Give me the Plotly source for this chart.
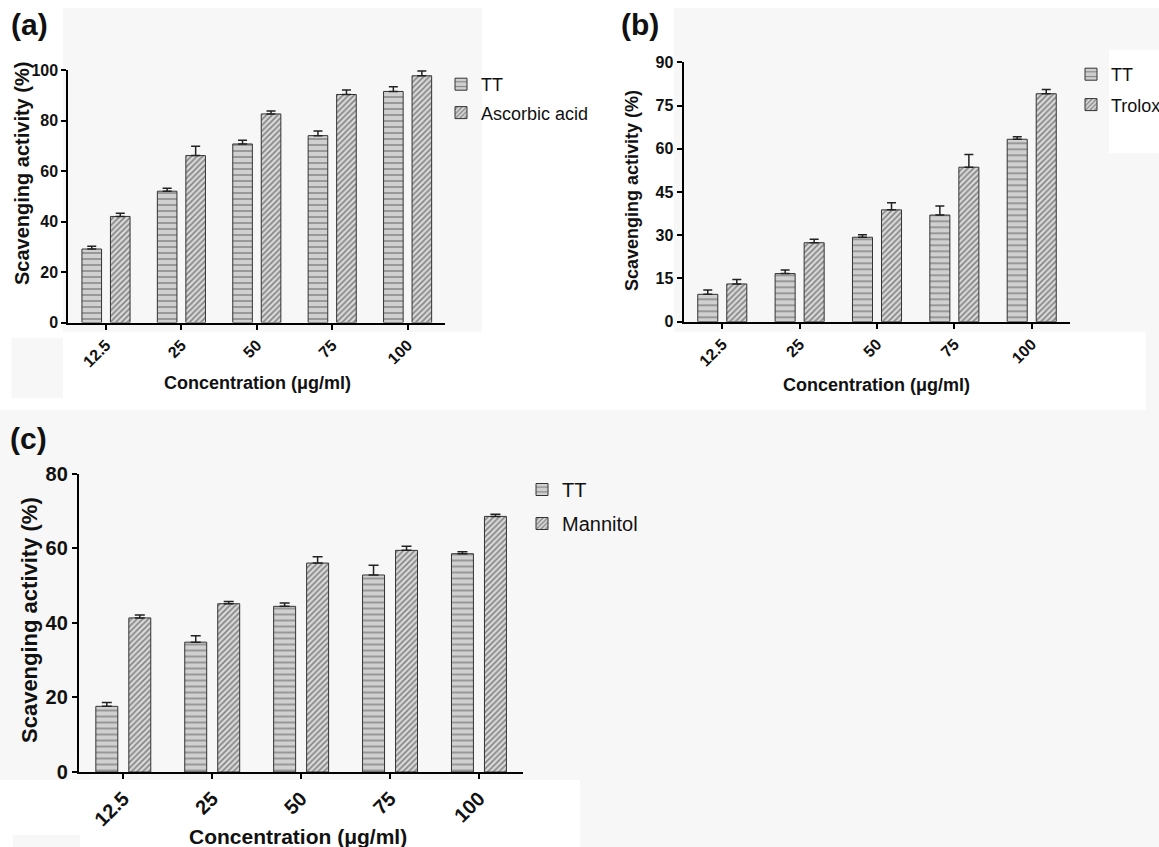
import plotly.graph_objects as go

W, H = 1159, 847

categories = ["12.5", "25", "50", "75", "100"]

a_tt = [29.1, 52.0, 70.7, 74.0, 91.5]
a_tt_err = [1.1, 1.2, 1.5, 1.8, 1.9]
a_aa = [42.0, 66.1, 82.6, 90.3, 97.7]
a_aa_err = [1.3, 3.7, 1.2, 1.8, 1.9]

b_tt = [9.5, 16.7, 29.3, 37.0, 63.3]
b_tt_err = [1.5, 1.2, 0.9, 3.1, 0.9]
b_tr = [13.1, 27.4, 38.8, 53.6, 79.1]
b_tr_err = [1.5, 1.2, 2.5, 4.4, 1.5]

c_tt = [17.6, 34.8, 44.4, 52.8, 58.5]
c_tt_err = [1.0, 1.7, 0.9, 2.6, 0.5]
c_mn = [41.3, 45.1, 56.0, 59.4, 68.5]
c_mn_err = [0.8, 0.6, 1.7, 1.1, 0.6]

FONT = "Liberation Sans, Arial, sans-serif"
GRAY_BG = "#f7f7f7"


def fx(px):
    return px / W


def fy(py):
    return 1 - py / H


def tt_marker():
    return dict(color="#d0d0d0", line=dict(color="#333333", width=1),
                pattern=dict(shape="-", fgcolor="#3a3a3a", bgcolor="#d0d0d0",
                             size=6, solidity=0.25))


def hatch_marker():
    return dict(color="#d0d0d0", line=dict(color="#333333", width=1),
                pattern=dict(shape="/", fgcolor="#2a2a2a", bgcolor="#d8d8d8",
                             size=4, solidity=0.38))


def err(arr, cap):
    return dict(type="data", array=arr, arrayminus=[0] * len(arr), symmetric=False,
                color="#222222", thickness=1.5, width=cap)


fig = go.Figure()

panels = [
    ("a", "Ascorbic acid", a_tt, a_tt_err, a_aa, a_aa_err, "x", "y", "legend", 0.26, 0.378, 4.5),
    ("b", "Trolox", b_tt, b_tt_err, b_tr, b_tr_err, "x2", "y2", "legend2", 0.259, 0.375, 4.5),
    ("c", "Mannitol", c_tt, c_tt_err, c_mn, c_mn_err, "x3", "y3", "legend3", 0.247, 0.371, 5),
]

for key, name2, tt, tte, ot, ote, xa, ya, lg, w, d, cap in panels:
    fig.add_trace(go.Bar(x=categories, y=tt, name="TT", marker=tt_marker(),
                         width=w, offset=-d / 2 - w / 2, error_y=err(tte, cap),
                         xaxis=xa, yaxis=ya, legend=lg, legendgroup=key + "1"))
    fig.add_trace(go.Bar(x=categories, y=ot, name=name2, marker=hatch_marker(),
                         width=w, offset=d / 2 - w / 2, error_y=err(ote, cap),
                         xaxis=xa, yaxis=ya, legend=lg, legendgroup=key + "2"))


def xax(dom, fs, anchor):
    return dict(domain=[fx(dom[0]), fx(dom[1])], anchor=anchor, type="category",
                range=[-0.5, 4.5], showline=True, linecolor="black", linewidth=2,
                ticks="outside", ticklen=5, tickwidth=1.5, tickcolor="black",
                tickangle=-45, showgrid=False, zeroline=False, automargin=False,
                tickfont=dict(family=FONT, size=fs, color="#111", weight="bold"))


def yax(dom, rng, dtick, fs, anchor):
    return dict(domain=[fy(dom[1]), fy(dom[0])], anchor=anchor, range=rng,
                tickmode="linear", tick0=0, dtick=dtick,
                showline=True, linecolor="black", linewidth=2,
                ticks="outside", ticklen=5, tickwidth=1.5, tickcolor="black",
                showgrid=False, zeroline=False, automargin=False,
                tickfont=dict(family=FONT, size=fs, color="#111", weight="bold"))


shapes = []


def rect(x0, y0, x1, y1, color):
    shapes.append(dict(type="rect", xref="paper", yref="paper", layer="below",
                       x0=fx(x0), x1=fx(x1), y0=fy(y1), y1=fy(y0),
                       fillcolor=color, line=dict(width=0)))


rect(63, 8, 482, 331.7, GRAY_BG)
rect(674, 8, 1159, 331.7, GRAY_BG)
rect(1145.7, 331.7, 1159, 410, GRAY_BG)
rect(11.5, 338, 63, 398, GRAY_BG)
rect(0, 410, 1159, 847, GRAY_BG)
rect(1109, 50, 1159, 153.3, "white")
rect(0, 780, 580, 847, "white")
rect(12.7, 835, 80, 847, GRAY_BG)

annotations = []


def text(x, y, s, size, bold=True, angle=0):
    annotations.append(dict(xref="paper", yref="paper", x=fx(x), y=fy(y), text=s,
                            showarrow=False, xanchor="center", yanchor="middle",
                            textangle=angle,
                            font=dict(family=FONT, size=size, color="#111",
                                      weight="bold" if bold else "normal")))


text(29, 25, "(a)", 30)
text(640, 25, "(b)", 30)
text(28, 438, "(c)", 30)
text(22, 174, "Scavenging activity (%)", 20, angle=-90)
text(632, 191, "Scavenging activity (%)", 18, angle=-90)
text(29, 620, "Scavenging activity (%)", 22, angle=-90)
text(257.5, 383, "Concentration (μg/ml)", 18)
text(876.7, 385, "Concentration (μg/ml)", 18)
text(298, 836, "Concentration (μg/ml)", 21)


def leg(x, y, fs, gap):
    return dict(x=fx(x), y=fy(y), xanchor="left", yanchor="top",
                bgcolor="rgba(0,0,0,0)", borderwidth=0, tracegroupgap=gap,
                traceorder="grouped",
                font=dict(family=FONT, size=fs, color="#111"),
                itemclick=False, itemdoubleclick=False)


fig.update_layout(
    width=W, height=H,
    margin=dict(l=0, r=0, t=0, b=0, autoexpand=False),
    paper_bgcolor="white", plot_bgcolor="rgba(0,0,0,0)",
    barmode="overlay",
    showlegend=True,
    xaxis=xax((68.3, 445.3), 16, "y"),
    yaxis=yax((70, 322.5), [0, 100], 20, 16, "x"),
    xaxis2=xax((683.6, 1070.4), 16, "y2"),
    yaxis2=yax((62.3, 321.7), [0, 90], 15, 16, "x2"),
    xaxis3=xax((78.85, 523.4), 20, "y3"),
    yaxis3=yax((473.5, 772), [0, 80], 20, 20, "x3"),
    legend=leg(441, 66, 18, 2),
    legend2=leg(1071, 56, 18, 4),
    legend3=leg(522, 470, 20, 5),
    shapes=shapes,
    annotations=annotations,
)

fig.write_html("out.html")
